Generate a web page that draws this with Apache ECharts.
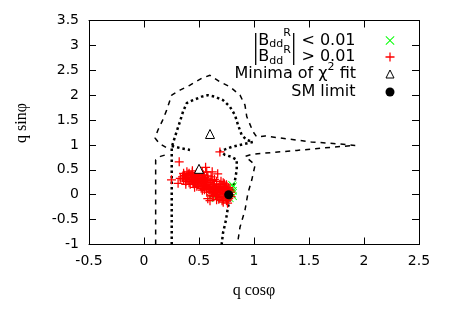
<!DOCTYPE html>
<html><head><meta charset="utf-8">
<script src="https://cdn.jsdelivr.net/npm/echarts@6/dist/echarts.min.js"></script>
<style>html,body{margin:0;padding:0;background:#fff}#c{width:450px;height:315px}</style>
</head><body><div id="c"></div>
<script>
// ---- data ----
const xRange = [-0.5, 2.5];
const yRange = [-1, 3.5];
const tickStep = 0.5;
const seriesNames = ['|BddR| < 0.01', '|BddR| > 0.01', 'Minima of chi2 fit', 'SM limit'];

const greenPts = [[0.80,0.02],[0.81,0.08],[0.80,0.14],[0.81,-0.03],[0.79,0.11],[0.78,-0.07],[0.72,-0.06],
  [0.65,-0.07],[0.60,-0.05],[0.63,0.02],[0.70,0.03],[0.75,0.08],[0.80,0.20],[0.68,-0.02],[0.74,-0.10],[0.81,0.17]];

const redPts = [
  [0.35,0.36],[0.36,0.30],[0.37,0.39],[0.38,0.33],[0.38,0.27],[0.39,0.36],[0.40,0.41],[0.40,0.30],[0.41,0.24],[0.42,0.35],
  [0.43,0.31],[0.43,0.39],[0.44,0.27],[0.45,0.34],[0.45,0.22],[0.46,0.37],[0.46,0.29],[0.47,0.41],[0.47,0.25],[0.48,0.33],
  [0.49,0.28],[0.49,0.20],[0.50,0.36],[0.50,0.24],
  [0.51,0.31],[0.51,0.18],[0.52,0.27],[0.52,0.39],[0.53,0.22],[0.53,0.33],[0.54,0.16],[0.54,0.28],[0.55,0.24],[0.55,0.35],
  [0.56,0.19],[0.56,0.30],[0.57,0.13],[0.57,0.26],[0.58,0.21],[0.58,0.32],[0.59,0.10],[0.59,0.17],[0.60,0.25],[0.60,0.14],
  [0.61,0.07],[0.61,0.20],[0.62,0.29],[0.62,0.11],[0.63,0.16],[0.63,0.03],[0.64,0.22],[0.64,0.09],[0.65,0.13],[0.65,0.00],
  [0.66,0.18],[0.66,0.06],[0.66,0.27],[0.67,0.10],[0.67,-0.03],[0.68,0.15],[0.68,0.04],[0.69,0.21],[0.69,0.08],[0.69,-0.06],
  [0.70,0.12],[0.70,0.01],
  [0.71,0.17],[0.71,-0.04],[0.72,0.07],[0.72,0.24],[0.72,-0.09],[0.73,0.11],[0.73,0.02],[0.74,0.15],[0.74,-0.05],[0.75,0.06],
  [0.75,0.20],[0.75,-0.12],[0.76,0.10],[0.76,-0.02],[0.77,0.04],[0.77,0.14],[0.77,-0.08],[0.78,0.00],[0.78,0.09],[0.79,-0.04],
  [0.79,0.05],
  [0.36,0.43],[0.39,0.46],[0.41,0.43],[0.42,0.21],[0.44,0.48],[0.48,0.44],[0.48,0.17],[0.50,0.42],[0.52,0.13],[0.54,0.40],
  [0.55,0.10],[0.58,0.38],[0.60,0.05],[0.61,0.36],[0.63,-0.04],[0.64,0.31],[0.68,-0.09],[0.70,0.27],[0.71,-0.12],[0.73,0.22],
  [0.62,-0.02],[0.57,0.05],[0.53,0.09],[0.46,0.15],[0.38,0.21],
  [0.32,0.66],[0.25,0.30],[0.31,0.23],[0.69,0.86],[0.56,0.55],[0.57,0.46],[0.62,0.46],[0.67,0.42],[0.58,-0.08],[0.66,-0.10],
  [0.76,-0.17],[0.44,0.45],[0.33,0.33],[0.53,0.45],[0.60,-0.12],[0.72,-0.15]
];

const minimaPts = [[0.60,1.22],[0.50,0.52]];
const smPts = [[0.77,0.0]];

// outer (dashed) contour pieces
const outerContourLeft = [[0.106,-1],[0.106,0.70],[0.15,0.77],[0.21,0.81]];
const outerContourMain = [[0.20,0.95],[0.14,1.03],[0.10,1.14],[0.127,1.30],[0.17,1.50],[0.206,1.70],[0.252,2.0],[0.327,2.10],
  [0.418,2.20],[0.525,2.34],[0.60,2.40],[0.69,2.27],[0.78,2.17],[0.873,2.0],[0.918,1.80],[0.934,1.57],[0.99,1.27],
  [1.025,1.16],[1.10,1.18],[1.31,1.12],[1.52,1.06],[1.72,1.03],[1.92,0.99],[1.80,0.97],[1.58,0.93],[1.39,0.89],
  [1.17,0.85],[0.98,0.81],[0.92,0.77],[1.01,0.60],[0.98,0.30],[0.945,0.03],[0.918,-0.31],[0.873,-0.65],[0.855,-0.91],[0.845,-1]];
// inner (dotted) contour pieces
const innerContourMain = [[0.252,-1],[0.252,0.95],[0.264,1.04],[0.297,1.27],[0.327,1.47],[0.355,1.67],[0.388,1.84],
  [0.445,1.90],[0.525,1.97],[0.58,2.0],[0.645,1.97],[0.718,1.90],[0.78,1.77],[0.827,1.60],[0.855,1.40],[0.888,1.20],
  [0.934,1.10],[0.99,1.06],[0.873,1.0],[0.797,0.96],[0.736,0.91],[0.69,0.88],[0.736,0.80],[0.797,0.76],[0.843,0.70],
  [0.843,0.50],[0.827,0.29],[0.797,0.03],[0.764,-0.24],[0.745,-0.51],[0.718,-0.77],[0.706,-1]];
const innerContourBranch = [[0.252,0.98],[0.343,0.93],[0.418,0.90]];

// ---- chart ----
const plusPath = 'path://M4.3,0H5.7V4.3H10V5.7H5.7V10H4.3V5.7H0V4.3H4.3Z';
const crossPath = 'path://M0,0.7L0.7,0L5,4.3L9.3,0L10,0.7L5.7,5L10,9.3L9.3,10L5,5.7L0.7,10L0,9.3L4.3,5Z';
const black = '#000';
const tickFont = {fontFamily: 'DejaVu Sans', fontSize: 14, color: black};

function axis(pos, range, showLabel, extra) {
  return Object.assign({
    type: 'value', position: pos, min: range[0], max: range[1], interval: tickStep,
    axisLine: {show: true, onZero: false, lineStyle: {color: black, width: 1}},
    axisTick: {show: true, inside: true, length: 7, lineStyle: {color: black, width: 1}},
    axisLabel: Object.assign({show: showLabel, margin: 10}, tickFont),
    splitLine: {show: false}
  }, extra || {});
}

const richStyles = {
  m: {fontFamily: 'DejaVu Sans', fontSize: 16, lineHeight: 18, color: black},
  s: {fontFamily: 'DejaVu Sans', fontSize: 11, padding: [8, 0, 0, 0], color: black},
  p: {fontFamily: 'DejaVu Sans', fontSize: 11, padding: [0, 0, 14, 0], color: black}
};
const legendTexts = {
  [seriesNames[0]]: '{m||B}{s|dd}{p|R}{m|| < 0.01}',
  [seriesNames[1]]: '{m||B}{s|dd}{p|R}{m|| > 0.01}',
  [seriesNames[2]]: '{m|Minima of }{m|χ}{p|2}{m| fit}',
  [seriesNames[3]]: '{m|SM limit}'
};
function legendItem(name, top, size) {
  return {
    data: [name], orient: 'vertical', align: 'right', right: 55.5, top: top, padding: 0,
    itemWidth: size, itemHeight: size, selectedMode: false,
    itemStyle: {borderWidth: 1},
    formatter: n => legendTexts[n],
    textStyle: {fontFamily: 'DejaVu Sans', fontSize: 16, color: black, padding: [0, 25, 0, 0], rich: richStyles}
  };
}

const lineBase = (data, dash, width) => ({
  type: 'line', data: data, symbol: 'none', silent: true, z: 1,
  lineStyle: {color: black, width: width, type: dash}
});

const option = {
  animation: false,
  backgroundColor: '#fff',
  grid: {left: 89, right: 31, top: 20.5, bottom: 70.5},
  xAxis: [
    axis('bottom', xRange, true, {name: 'q cosφ', nameLocation: 'middle', nameGap: 38,
      nameTextStyle: {fontFamily: 'Liberation Serif', fontSize: 16, color: black}}),
    axis('top', xRange, false)
  ],
  yAxis: [
    axis('left', yRange, true, {name: 'q sinφ', nameLocation: 'middle', nameGap: 59, nameRotate: 90,
      nameTextStyle: {fontFamily: 'Liberation Serif', fontSize: 16, color: black, padding: [0, 0, 0, 19]}}),
    axis('right', yRange, false)
  ],
  legend: [
    legendItem(seriesNames[0], 28, 9),
    legendItem(seriesNames[1], 44.5, 9),
    legendItem(seriesNames[2], 61.5, 8),
    legendItem(seriesNames[3], 84, 9)
  ],
  series: [
    lineBase(outerContourLeft, [5, 5], 1.5),
    lineBase(outerContourMain, [5, 5], 1.5),
    lineBase(innerContourMain, [2.5, 3], 2.5),
    lineBase(innerContourBranch, [2.5, 3], 2.5),
    {name: seriesNames[0], type: 'scatter', data: greenPts, symbol: crossPath, symbolSize: 8,
      itemStyle: {color: '#00ff00', opacity: 1}, z: 3},
    {name: seriesNames[1], type: 'scatter', data: redPts, symbol: plusPath, symbolSize: 9,
      itemStyle: {color: '#ff0000', opacity: 1}, z: 4},
    {name: seriesNames[2], type: 'scatter', data: minimaPts, symbol: 'triangle', symbolSize: 9,
      itemStyle: {color: '#fff', borderColor: black, borderWidth: 1, opacity: 1}, z: 5},
    {name: seriesNames[3], type: 'scatter', data: smPts, symbol: 'circle', symbolSize: 9,
      itemStyle: {color: black, opacity: 1}, z: 6}
  ]
};
const chart = echarts.init(document.getElementById('c'), null, {renderer: 'canvas'});
chart.setOption(option);
</script></body></html>
